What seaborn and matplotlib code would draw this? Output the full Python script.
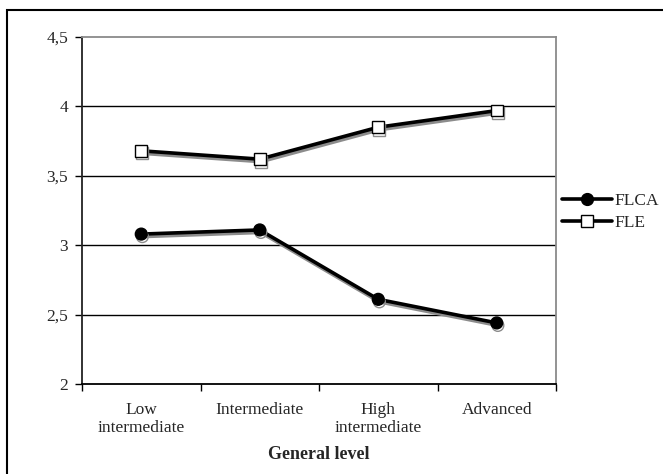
import matplotlib
matplotlib.use("Agg")
import matplotlib.pyplot as plt
import matplotlib.patheffects as pe
from matplotlib.patches import Rectangle
from matplotlib.ticker import FuncFormatter, FixedLocator
import pandas as pd
import seaborn as sns

# data
levels = ["Low\nintermediate", "Intermediate", "High\nintermediate", "Advanced"]
flca = [3.08, 3.11, 2.61, 2.44]
fle = [3.68, 3.62, 3.85, 3.97]

df = pd.DataFrame({
    "level": levels * 2,
    "score": flca + fle,
    "scale": ["FLCA"] * 4 + ["FLE"] * 4,
})

sns.set_theme(style="white")
plt.rcParams["font.family"] = ["Liberation Serif", "DejaVu Serif"]

fig = plt.figure(figsize=(6.63, 4.74), dpi=100)
ax = fig.add_axes([82 / 663, 1 - 384 / 474, (556 - 82) / 663, (384 - 37) / 474])

shadow = [pe.SimpleLineShadow(offset=(0.8, -1.8), shadow_color="#8c8c8c", alpha=1.0),
          pe.Normal()]

sns.lineplot(data=df, x="level", y="score", hue="scale", style="scale",
             palette={"FLCA": "black", "FLE": "black"},
             markers={"FLCA": "o", "FLE": "s"}, dashes=False,
             linewidth=2.6, markersize=8.5, markeredgewidth=1.0,
             markeredgecolor="black", sort=False, ax=ax, legend=False)

for line, face in zip(ax.lines, ["black", "white"]):
    line.set_markerfacecolor(face)
    line.set_path_effects(shadow)

ax.set_xlim(-0.5, 3.5)
ax.set_ylim(2, 4.5)
ax.set_yticks([2, 2.5, 3, 3.5, 4, 4.5])
ax.yaxis.set_major_formatter(FuncFormatter(lambda v, p: f"{v:g}".replace(".", ",")))
ax.set_xticks(range(4))
ax.set_xticklabels(levels, fontsize=12.5, linespacing=1.2)
ax.xaxis.set_minor_locator(FixedLocator([-0.5, 0.5, 1.5, 2.5, 3.5]))
ax.tick_params(axis="x", which="major", length=0, pad=13)
ax.tick_params(axis="x", which="minor", length=5, width=1, color="black",
               direction="out", bottom=True)
ax.tick_params(axis="y", length=5, width=1, color="black", direction="out",
               left=True, labelsize=12.5, pad=5)

for y in [2.5, 3, 3.5, 4]:
    ax.axhline(y, color="black", linewidth=1.0, zorder=0)

ax.spines["left"].set_color("#222222")
ax.spines["bottom"].set_color("black")
ax.spines["top"].set_color("#8a8a8a")
ax.spines["right"].set_color("#8a8a8a")
for s in ax.spines.values():
    s.set_linewidth(1.3)

ax.set_xlabel("General level", fontsize=13, fontweight="bold", labelpad=7)
ax.set_ylabel("")

# legend built from the same lines
handles = [plt.Line2D([], [], color="black", lw=2.6, marker=m, markersize=8.5,
                      markerfacecolor=f, markeredgecolor="black")
           for m, f in [("o", "black"), ("s", "white")]]
fig.legend(handles, ["FLCA", "FLE"], loc="center left",
           bbox_to_anchor=(562 / 663, 1 - 212 / 474), frameon=False,
           fontsize=12.5, handlelength=2.9, handletextpad=0.1,
           borderpad=0, borderaxespad=0, labelspacing=0.3)

# outer chart frame
fig.patches.append(Rectangle((7 / 663, -0.05), 1.2, 1 - 10 / 474 + 0.05,
                             transform=fig.transFigure, fill=False,
                             edgecolor="black", linewidth=1.5))

fig.savefig("out.png", dpi=100)
